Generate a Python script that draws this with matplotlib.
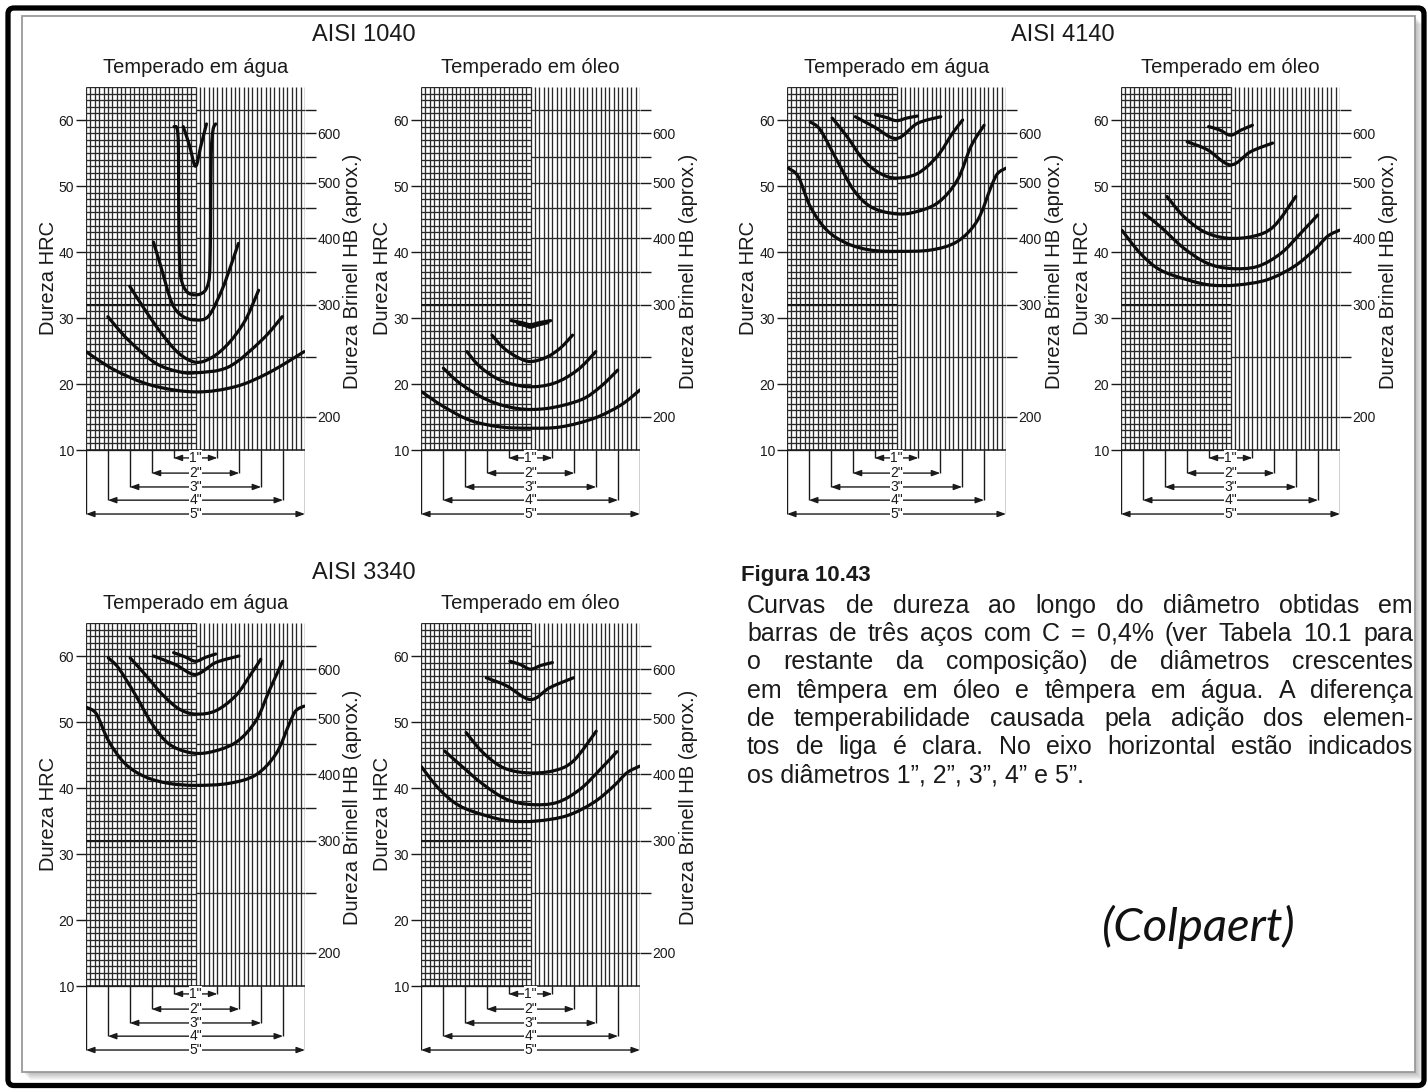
import numpy as np
import matplotlib
matplotlib.use("Agg")
import matplotlib.pyplot as plt
from matplotlib.patches import FancyBboxPatch, Rectangle, PathPatch
from matplotlib.path import Path
from matplotlib.transforms import IdentityTransform

plt.rcParams['font.family'] = ['Liberation Sans', 'DejaVu Sans']

# ---------------- scales ----------------
hrc_ticks = [10, 20, 30, 40, 50, 60]
hb_labeled = [200, 300, 400, 500, 600]
hb_labeled_hrc = [15.0, 32.0, 42.1, 50.5, 58.0]
hb_minor = [250, 350, 450, 550, 650]
hb_minor_hrc = [24.1, 37.0, 46.7, 54.4, 61.5]
diametros = [1, 2, 3, 4, 5]

# ---------------- hardness profiles (position in inches from the bar axis, HRC) ----------------
pos_1040_agua = [
    [-0.28, -0.14, 0.0, 0.12, 0.25],
    [-0.49, -0.42, -0.39, -0.385, -0.37, -0.33, -0.2, 0.0, 0.2, 0.3, 0.33, 0.345, 0.36, 0.40, 0.46],
    [-0.96, -0.8, -0.54, -0.3, 0.0, 0.3, 0.6, 0.8, 0.98],
    [-1.5, -1.15, -0.78, -0.39, 0.0, 0.37, 0.76, 1.14, 1.44],
    [-2.0, -1.54, -0.92, -0.4, 0.0, 0.76, 1.52, 1.98],
    [-2.5, -1.84, -1.0, 0.0, 0.91, 1.67, 2.48],
]
hrc_1040_agua = [
    [59.0, 56.2, 53.0, 56.0, 59.4],
    [59.0, 58.7, 56.0, 48.0, 40.0, 36.0, 34.0, 33.5, 34.0, 35.5, 38.0, 45.0, 55.0, 58.5, 59.4],
    [41.5, 38.0, 32.3, 30.3, 29.7, 30.3, 34.2, 37.8, 41.3],
    [34.8, 31.2, 27.7, 24.7, 23.3, 24.0, 26.2, 29.7, 34.2],
    [30.2, 26.7, 23.2, 21.9, 21.7, 22.6, 26.7, 30.2],
    [24.9, 22.1, 19.8, 18.8, 19.6, 21.7, 24.9],
]

pos_1040_oleo = [
    [-0.44, -0.2, 0.0, 0.2, 0.46],
    [-0.3, -0.1, 0.0, 0.15, 0.4],
    [-0.88, -0.62, -0.31, 0.0, 0.38, 0.69, 0.96],
    [-1.45, -1.15, -0.69, -0.08, 0.53, 1.07, 1.49],
    [-1.99, -1.61, -0.99, -0.31, 0.38, 1.15, 1.6, 1.99],
    [-2.48, -1.99, -1.38, -0.69, 0.0, 0.69, 1.45, 2.06, 2.5],
]
hrc_1040_oleo = [
    [29.6, 29.3, 29.0, 29.3, 29.6],
    [29.2, 28.8, 28.6, 28.9, 29.3],
    [27.4, 25.5, 24.1, 23.4, 24.1, 25.5, 27.4],
    [24.9, 22.6, 20.6, 19.6, 20.1, 22.1, 24.9],
    [22.4, 20.1, 17.6, 16.3, 16.3, 17.6, 19.6, 22.1],
    [18.8, 16.6, 14.5, 13.5, 13.3, 13.5, 14.8, 16.8, 19.1],
]

pos_4140_agua = [
    [-0.48, -0.24, 0.0, 0.24, 0.48],
    [-0.94, -0.52, 0.0, 0.48, 1.01],
    [-1.47, -1.13, -0.75, -0.37, 0.0, 0.48, 0.93, 1.28, 1.51],
    [-1.97, -1.74, -1.36, -0.98, -0.6, -0.14, 0.32, 0.93, 1.39, 1.7, 2.0],
    [-2.47, -2.24, -1.97, -1.59, -1.13, -0.6, 0.0, 0.78, 1.39, 1.85, 2.16, 2.31, 2.5],
]
hrc_4140_agua = [
    [60.8, 60.4, 59.9, 60.3, 60.6],
    [60.5, 59.0, 57.2, 59.5, 60.5],
    [60.3, 57.5, 53.9, 51.9, 51.2, 51.9, 54.5, 58.0, 60.0],
    [59.7, 58.5, 53.9, 49.4, 46.9, 45.9, 45.9, 47.4, 50.9, 56.0, 59.2],
    [52.7, 51.4, 46.9, 43.3, 41.3, 40.3, 40.1, 40.3, 41.6, 44.8, 49.9, 51.9, 52.7],
]

pos_4140_oleo = [
    [-0.5, -0.25, 0.0, 0.25, 0.5],
    [-0.99, -0.53, 0.0, 0.46, 0.96],
    [-1.45, -1.07, -0.61, -0.08, 0.53, 0.99, 1.49],
    [-1.99, -1.61, -1.07, -0.53, 0.0, 0.61, 1.15, 1.61, 1.99],
    [-2.48, -2.06, -1.61, -0.99, -0.46, 0.15, 0.84, 1.45, 1.91, 2.22, 2.49],
]
hrc_4140_oleo = [
    [59.0, 58.5, 57.7, 58.5, 59.2],
    [56.7, 55.5, 53.2, 55.2, 56.5],
    [48.4, 45.4, 43.1, 42.1, 42.4, 43.9, 48.4],
    [45.9, 43.9, 40.6, 38.3, 37.5, 37.8, 39.8, 42.9, 45.6],
    [43.3, 39.8, 37.3, 35.8, 35.0, 35.0, 35.8, 37.8, 40.3, 42.4, 43.3],
]

pos_3340_agua = [
    [-0.5, -0.25, 0.0, 0.23, 0.46],
    [-0.96, -0.46, 0.0, 0.46, 0.99],
    [-1.49, -1.15, -0.76, -0.38, 0.0, 0.46, 0.92, 1.26, 1.49],
    [-1.99, -1.76, -1.38, -0.99, -0.61, -0.15, 0.31, 0.92, 1.38, 1.68, 1.99],
    [-2.48, -2.26, -1.99, -1.61, -1.15, -0.61, 0.0, 0.76, 1.38, 1.84, 2.14, 2.29, 2.48],
]
hrc_3340_agua = [
    [60.5, 59.9, 59.2, 59.8, 60.3],
    [60.0, 58.7, 57.2, 59.0, 60.0],
    [59.7, 57.2, 54.2, 52.0, 51.2, 51.7, 54.0, 57.2, 59.5],
    [59.7, 58.2, 54.2, 49.7, 46.7, 45.4, 45.4, 46.9, 50.2, 54.7, 59.2],
    [52.2, 51.2, 47.2, 43.7, 41.7, 40.7, 40.4, 40.7, 42.0, 45.2, 49.7, 51.7, 52.4],
]

pos_3340_oleo = [
    [-0.47, -0.23, 0.0, 0.25, 0.5],
    [-1.01, -0.55, 0.0, 0.44, 0.98],
    [-1.47, -1.09, -0.63, -0.09, 0.52, 0.98, 1.5],
    [-1.96, -1.62, -1.09, -0.55, 0.0, 0.6, 1.13, 1.59, 1.97],
    [-2.5, -2.08, -1.62, -1.01, -0.47, 0.14, 0.83, 1.44, 1.9, 2.2, 2.49],
]
hrc_3340_oleo = [
    [59.2, 58.7, 58.0, 58.6, 59.0],
    [56.7, 55.5, 53.4, 55.2, 56.7],
    [48.4, 45.4, 43.1, 42.3, 42.6, 44.1, 48.6],
    [45.6, 43.6, 40.6, 38.3, 37.5, 37.8, 39.8, 42.8, 45.5],
    [43.3, 39.8, 37.3, 35.8, 35.0, 35.0, 35.8, 37.8, 40.3, 42.3, 43.3],
]

titulos = ["AISI 1040", "AISI 4140", "AISI 3340"]
subtitulos = ["Temperado em água", "Temperado em óleo"]

legenda_titulo = "Figura 10.43"
legenda_linhas = [
    "Curvas de dureza ao longo do diâmetro obtidas em",
    "barras de três aços com C = 0,4% (ver Tabela 10.1 para",
    "o restante da composição) de diâmetros crescentes",
    "em têmpera em óleo e têmpera em água. A diferença",
    "de temperabilidade causada pela adição dos elemen-",
    "tos de liga é clara. No eixo horizontal estão indicados",
    "os diâmetros 1”, 2”, 3”, 4” e 5”.",
]
fonte = "(Colpaert)"

# ---------------- figure ----------------
W, H = 1428, 1089
fig = plt.figure(figsize=(W / 100, H / 100), dpi=100)
fig.patch.set_facecolor('white')

GW = 219          # grid width in px
PX_HRC = 6.6      # px per HRC unit
YMIN, YMAX = -0.8, 65.0
INK = '#1a1a1a'
GRID = '#2a2a2a'
dim_levels = [8.8, 6.5, 4.4, 2.4, 0.3]


def fig_px(x, y):
    return x / W, 1 - y / H


def smooth_path(xs, ys):
    """Cubic Bezier path passing through every given point (Catmull-Rom tangents)."""
    p = np.column_stack([xs, ys]).astype(float)
    ext = np.vstack([p[0], p, p[-1]])
    verts = [p[0]]
    codes = [Path.MOVETO]
    for i in range(len(p) - 1):
        p0, p1, p2, p3 = ext[i], ext[i + 1], ext[i + 2], ext[i + 3]
        verts += [p1 + (p2 - p0) / 6.0, p2 - (p3 - p1) / 6.0, p2]
        codes += [Path.CURVE4] * 3
    return Path(verts, codes)


def make_panel(left, y10, xs_list, ys_list, subtitle):
    bottom_px = y10 + (10 - YMIN) * PX_HRC
    top_px = y10 - (YMAX - 10) * PX_HRC
    ax = fig.add_axes([left / W, 1 - bottom_px / H, GW / W, (bottom_px - top_px) / H])
    ax.set_xlim(-2.5, 2.5)
    ax.set_ylim(YMIN, YMAX)
    ax.patch.set_visible(False)
    for s in ax.spines.values():
        s.set_visible(False)

    # chart paper: dense half (HRC lines) and sparse half (HB lines)
    ax.hlines(np.arange(10, 66, 1), -2.5, 0, color=GRID, lw=0.95, zorder=1)
    ax.vlines(np.round(np.arange(-2.5, 2.501, 0.1), 2), 10, 65, color=GRID, lw=0.95, zorder=1)
    ax.hlines(hb_labeled_hrc + hb_minor_hrc, 0, 2.5, color=GRID, lw=0.95, zorder=1)
    ax.hlines([hb_labeled_hrc[1]], -2.5, 0, color=INK, lw=1.5, zorder=1)
    ax.hlines([10], -2.5, 2.5, color=INK, lw=1.1, zorder=1)

    # left HRC axis
    ax.set_xticks([])
    ax.set_yticks(hrc_ticks)
    ax.set_yticklabels([str(v) for v in hrc_ticks])
    ax.tick_params(axis='y', direction='out', length=7, width=1.0, pad=1.5,
                   labelsize=10, colors=INK)

    # right HB axis
    tw = ax.twinx()
    tw.set_ylim(YMIN, YMAX)
    for s in tw.spines.values():
        s.set_visible(False)
    pos = hb_labeled_hrc + hb_minor_hrc
    labs = [str(v) for v in hb_labeled] + ['' for _ in hb_minor]
    tw.set_yticks(pos)
    tw.set_yticklabels(labs)
    tw.tick_params(axis='y', direction='out', length=8, width=1.0, pad=1.0,
                   labelsize=10, colors=INK)

    # diameter dimension marks
    for d, lev in zip(diametros, dim_levels):
        ax.vlines([-d / 2, d / 2], lev, 10, color=INK, lw=1.0, zorder=2)
        ax.annotate('', xy=(-d / 2, lev), xytext=(d / 2, lev),
                    arrowprops=dict(arrowstyle='<|-|>,head_length=0.55,head_width=0.2',
                                    mutation_scale=9, lw=1.0, color=INK,
                                    shrinkA=0, shrinkB=0), zorder=3)
        ax.text(0, lev, f'{d}"', ha='center', va='center', fontsize=10, color=INK,
                bbox=dict(fc='white', ec='none', pad=0.4), zorder=4)

    # hardness curves
    for xs, ys in zip(xs_list, ys_list):
        ax.add_patch(PathPatch(smooth_path(xs, ys), fill=False, ec='#0d0d0d', lw=2.3,
                               capstyle='round', joinstyle='round', zorder=5))

    # labels
    ax.text(0, YMAX + 2.9, subtitle, ha='center', va='center', fontsize=14.5,
            color=INK, clip_on=False)
    fig.text(*fig_px(left - 38, y10 - 26 * PX_HRC), "Dureza HRC", rotation=90,
             ha='center', va='center', fontsize=14.5, color=INK)
    fig.text(*fig_px(left + GW + 48, y10 - 27.0 * PX_HRC), "Dureza Brinell HB (aprox.)",
             rotation=90, ha='center', va='center', fontsize=14.5, color=INK)
    return ax


make_panel(86, 450, pos_1040_agua, hrc_1040_agua, subtitulos[0])
make_panel(421, 450, pos_1040_oleo, hrc_1040_oleo, subtitulos[1])
make_panel(787, 450, pos_4140_agua, hrc_4140_agua, subtitulos[0])
make_panel(1121, 450, pos_4140_oleo, hrc_4140_oleo, subtitulos[1])
make_panel(86, 986, pos_3340_agua, hrc_3340_agua, subtitulos[0])
make_panel(421, 986, pos_3340_oleo, hrc_3340_oleo, subtitulos[1])

fig.text(*fig_px(364, 35), titulos[0], ha='center', va='center', fontsize=17, color=INK)
fig.text(*fig_px(1063, 35), titulos[1], ha='center', va='center', fontsize=17, color=INK)
fig.text(*fig_px(364, 573), titulos[2], ha='center', va='center', fontsize=17, color=INK)

# caption, justified
renderer = fig.canvas.get_renderer()
fig.text(*fig_px(741, 575), legenda_titulo, ha='left', va='center', fontsize=16,
         fontweight='bold', color=INK)
X0, X1 = 747, 1413
line_y = [606, 634, 662, 691, 719, 747, 776]
for i, (line, yy) in enumerate(zip(legenda_linhas, line_y)):
    if i == len(legenda_linhas) - 1:
        fig.text(*fig_px(X0, yy), line, ha='left', va='center', fontsize=18, color=INK)
        continue
    words = line.split(' ')
    txts = [fig.text(*fig_px(X0, yy), w, ha='left', va='center', fontsize=18, color=INK)
            for w in words]
    widths = [t.get_window_extent(renderer).width for t in txts]
    gap = (X1 - X0 - sum(widths)) / (len(words) - 1)
    x = X0
    for t, wd in zip(txts, widths):
        t.set_x(x / W)
        x += wd + gap

fig.text(*fig_px(1199, 927), fonte, ha='center', va='center', fontsize=34,
         family=['Lato', 'DejaVu Sans'], style='italic', color='#111111')

# page frame: soft shadow, gray frame and outer black border
for i in range(1, 9):
    fig.add_artist(Rectangle((22 + i, H - 1072 - i), 1415 - 22, 1072 - 16,
                             transform=IdentityTransform(), fc='#000000',
                             alpha=0.035, ec='none', zorder=-12))
fig.add_artist(Rectangle((22, H - 1072), 1415 - 22, 1072 - 16, transform=IdentityTransform(),
                         fc='white', ec='#9a9a9a', lw=1.3, zorder=-11))
fig.add_artist(FancyBboxPatch((8, 3.5), W - 12, H - 11.5,
                              boxstyle='round,pad=0,rounding_size=6',
                              transform=IdentityTransform(), fc='none', ec='black',
                              lw=3.8, zorder=10))

fig.savefig('out.png', dpi=100, facecolor='white')
